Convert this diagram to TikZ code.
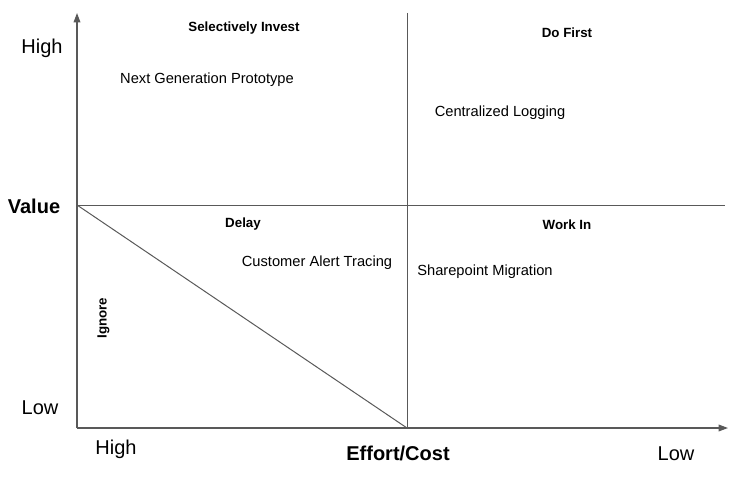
\documentclass[tikz,border=0pt]{standalone}
\usepackage{fontspec}
\setmainfont{Liberation Sans}
\usetikzlibrary{arrows.meta}
\definecolor{axisgrey}{HTML}{595959}
\begin{document}
\begin{tikzpicture}[x=0.75pt,y=-0.75pt,
  axis/.style={draw=axisgrey,line width=0.9pt,-{Triangle[length=7pt,width=5pt]}},
  grid/.style={draw=axisgrey,line width=0.75pt},
  big/.style={font=\fontsize{15}{18}\selectfont,inner sep=0pt},
  bigb/.style={font=\fontsize{15}{18}\selectfont\bfseries,inner sep=0pt},
  quad/.style={font=\fontsize{10}{12}\selectfont\bfseries,inner sep=0pt},
  item/.style={font=\fontsize{11}{13}\selectfont,inner sep=0pt}]
\useasboundingbox (0,0) rectangle (729,478);
\coordinate (O) at (77,428);
\coordinate (ytop) at (77,13);
\coordinate (xend) at (728,428);
\coordinate (vtop) at (407,13);
\coordinate (vbot) at (407,428);
\coordinate (hl) at (77,205);
\coordinate (hr) at (725,205);
\draw[grid] (vtop) -- (vbot);
\draw[grid] (hl) -- (hr);
\draw[grid] (hl) -- (vbot);
\draw[axis] (O) -- (ytop);
\draw[axis] (O) -- (xend);
\node[big] (yhigh) at (42,48.5) {High};
\node[bigb] (value) at (34,206.5) {Value};
\node[big] (ylow) at (40,407.5) {Low};
\node[big] (xhigh) at (116,449.5) {High};
\node[bigb] (effort) at (398,453) {Effort/Cost};
\node[big] (xlow) at (676,453.5) {Low};
\node[quad] (selinv) at (244,28) {Selectively Invest};
\node[quad] (dofirst) at (567,32.5) {Do First};
\node[quad] (delay) at (243,224.5) {Delay};
\node[quad] (workin) at (567,224.5) {Work In};
\node[quad,rotate=90] (ignore) at (103.5,318) {Ignore};
\node[item] (ngp) at (207,79.5) {Next Generation Prototype};
\node[item] (cl) at (500,112.5) {Centralized Logging};
\node[item] (cat) at (317,262.5) {Customer Alert Tracing};
\node[item] (sm) at (485,271.5) {Sharepoint Migration};
\end{tikzpicture}
\end{document}
